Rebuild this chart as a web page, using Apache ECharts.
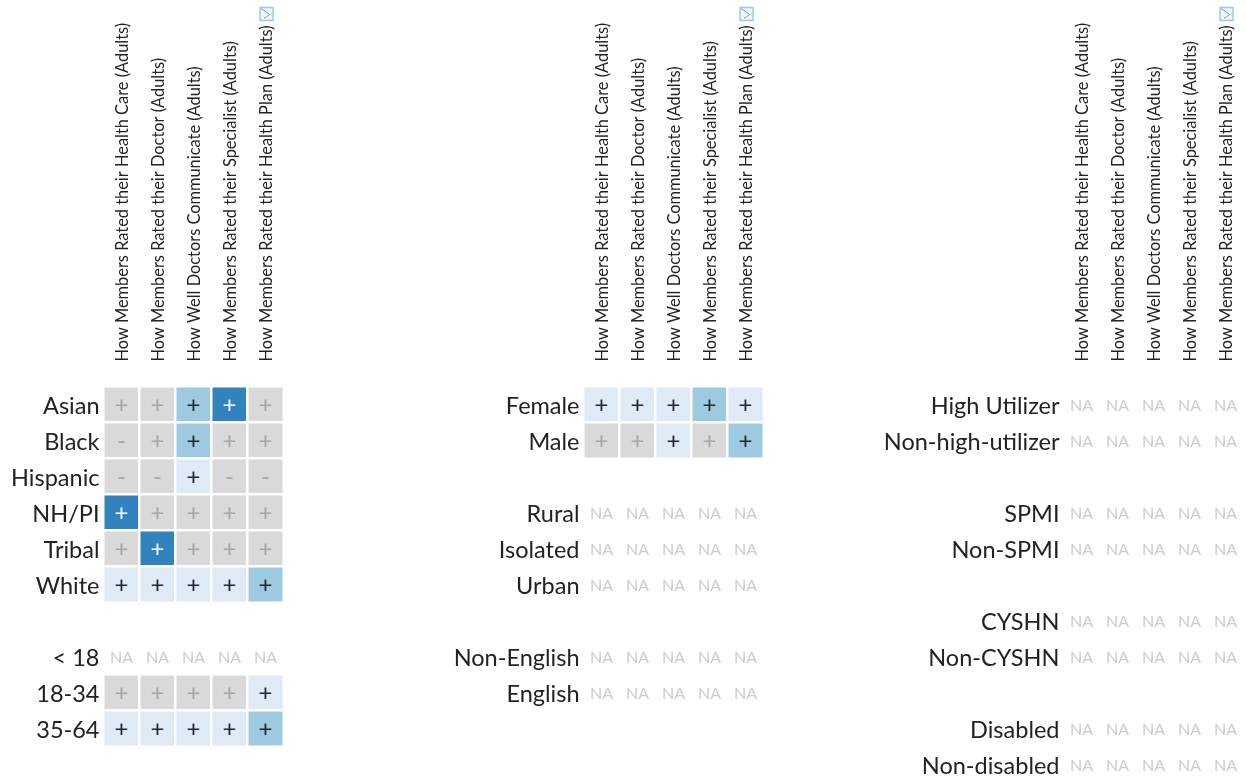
<!DOCTYPE html>
<html>
<head>
<meta charset="utf-8">
<script src="https://cdn.jsdelivr.net/npm/echarts@6/dist/echarts.min.js"></script>
<style>
html, body { margin: 0; padding: 0; background: #fff; }
#main { width: 1246px; height: 779px; }
</style>
</head>
<body>
<div id="main"></div>
<script>
var measures = [
  'How Members Rated their Health Care (Adults)',
  'How Members Rated their Doctor (Adults)',
  'How Well Doctors Communicate (Adults)',
  'How Members Rated their Specialist (Adults)',
  'How Members Rated their Health Plan (Adults)'
];

// row labels, '' leaves a blank spacer row
var rows1 = ['Asian', 'Black', 'Hispanic', 'NH/PI', 'Tribal', 'White', '', '< 18', '18-34', '35-64', ' '];
var rows2 = ['Female', 'Male', '', 'Rural', 'Isolated', 'Urban', ' ', 'Non-English', 'English', '  ', '   '];
var rows3 = ['High Utilizer', 'Non-high-utilizer', '', 'SPMI', 'Non-SPMI', ' ', 'CYSHN', 'Non-CYSHN', '  ', 'Disabled', 'Non-disabled'];

// 0 grey, 1 light blue, 2 mid blue, 3 dark blue, one char per measure, . = no cell
var levels1 = ['00230', '00200', '00100', '30000', '03000', '11112', '', '.....', '00001', '11112', ''];
var signs1 = ['+++++', '-++++', '--+--', '+++++', '+++++', '+++++', '', 'NNNNN', '+++++', '+++++', ''];
var levels2 = ['11121', '00102', '', '.....', '.....', '.....', '', '.....', '.....', '', ''];
var signs2 = ['+++++', '+++++', '', 'NNNNN', 'NNNNN', 'NNNNN', '', 'NNNNN', 'NNNNN', '', ''];
var levels3 = ['.....', '.....', '', '.....', '.....', '', '.....', '.....', '', '.....', '.....'];
var signs3 = ['NNNNN', 'NNNNN', '', 'NNNNN', 'NNNNN', '', 'NNNNN', 'NNNNN', '', 'NNNNN', 'NNNNN'];

var fills = { '0': '#d9d9d9', '1': '#deebf7', '2': '#9ecae1', '3': '#3182bd', '.': 'rgba(0,0,0,0)' };
var inks = { '0': '#a6a6a6', '1': '#252525', '2': '#252525', '3': '#ffffff', '.': '#cccccc' };

var panels = [
  { rows: rows1, levels: levels1, signs: signs1, left: 103.5 },
  { rows: rows2, levels: levels2, signs: signs2, left: 583.5 },
  { rows: rows3, levels: levels3, signs: signs3, left: 1063.5 }
];
var font = 'Lato';

function cells(panel) {
  var out = [];
  panel.levels.forEach(function (line, y) {
    for (var x = 0; x < line.length; x++) {
      var sign = panel.signs[y][x];
      out.push({
        name: sign === 'N' ? 'NA' : sign,
        value: [x, y, line[x] === '.' ? 0 : Number(line[x])],
        itemStyle: { color: fills[line[x]] },
        label: { color: inks[line[x]], fontSize: sign === 'N' ? 16 : 24 }
      });
    }
  });
  return out;
}

// axisLabel ignores padding, so the nudge goes through a rich style
function richLabel(v) {
  return '{a|' + v + '}';
}

var option = {
  backgroundColor: '#fff',
  animation: false,
  grid: panels.map(function (p) {
    return { left: p.left, top: 386.5, width: 180, height: 396, outerBoundsMode: 'none' };
  }),
  xAxis: panels.map(function (p, i) {
    return {
      type: 'category', gridIndex: i, position: 'top', data: measures,
      axisLine: { show: false }, axisTick: { show: false }, splitLine: { show: false },
      axisLabel: {
        interval: 0, rotate: -90, margin: 25, formatter: richLabel,
        rich: { a: { padding: [3, 0, 0, 0], fontFamily: font, fontSize: 16.4, color: '#222' } }
      }
    };
  }),
  yAxis: panels.map(function (p, i) {
    return {
      type: 'category', gridIndex: i, inverse: true, data: p.rows,
      axisLine: { show: false }, axisTick: { show: false }, splitLine: { show: false },
      axisLabel: {
        interval: 0, margin: 4, formatter: richLabel,
        rich: { a: { padding: [3, 0, 0, 0], fontFamily: font, fontSize: 23.5, color: '#222' } }
      }
    };
  }),
  series: panels.map(function (p, i) {
    return {
      type: 'heatmap', xAxisIndex: i, yAxisIndex: i, data: cells(p),
      itemStyle: { borderColor: '#fff', borderWidth: 2.5 },
      emphasis: { disabled: true },
      label: {
        show: true, fontFamily: font, offset: [0, 1],
        formatter: function (d) { return d.name; }
      }
    };
  }),
  // little "show more" marker above the last column of each panel
  graphic: panels.map(function (p) {
    return {
      type: 'group', left: p.left + 155, top: 6,
      children: [
        { type: 'rect', shape: { x: 0, y: 0, width: 13, height: 13 }, style: { fill: '#eef5fb', stroke: '#9ecae1', lineWidth: 1.5 } },
        { type: 'polyline', shape: { points: [[1, 1], [10, 7], [4, 11]] }, style: { fill: null, stroke: '#6baed6', lineWidth: 1 } }
      ]
    };
  })
};

var myChart = echarts.init(document.getElementById('main'));
myChart.setOption(option);
window.onresize = function () {
  myChart.resize();
};
</script>
</body>
</html>
